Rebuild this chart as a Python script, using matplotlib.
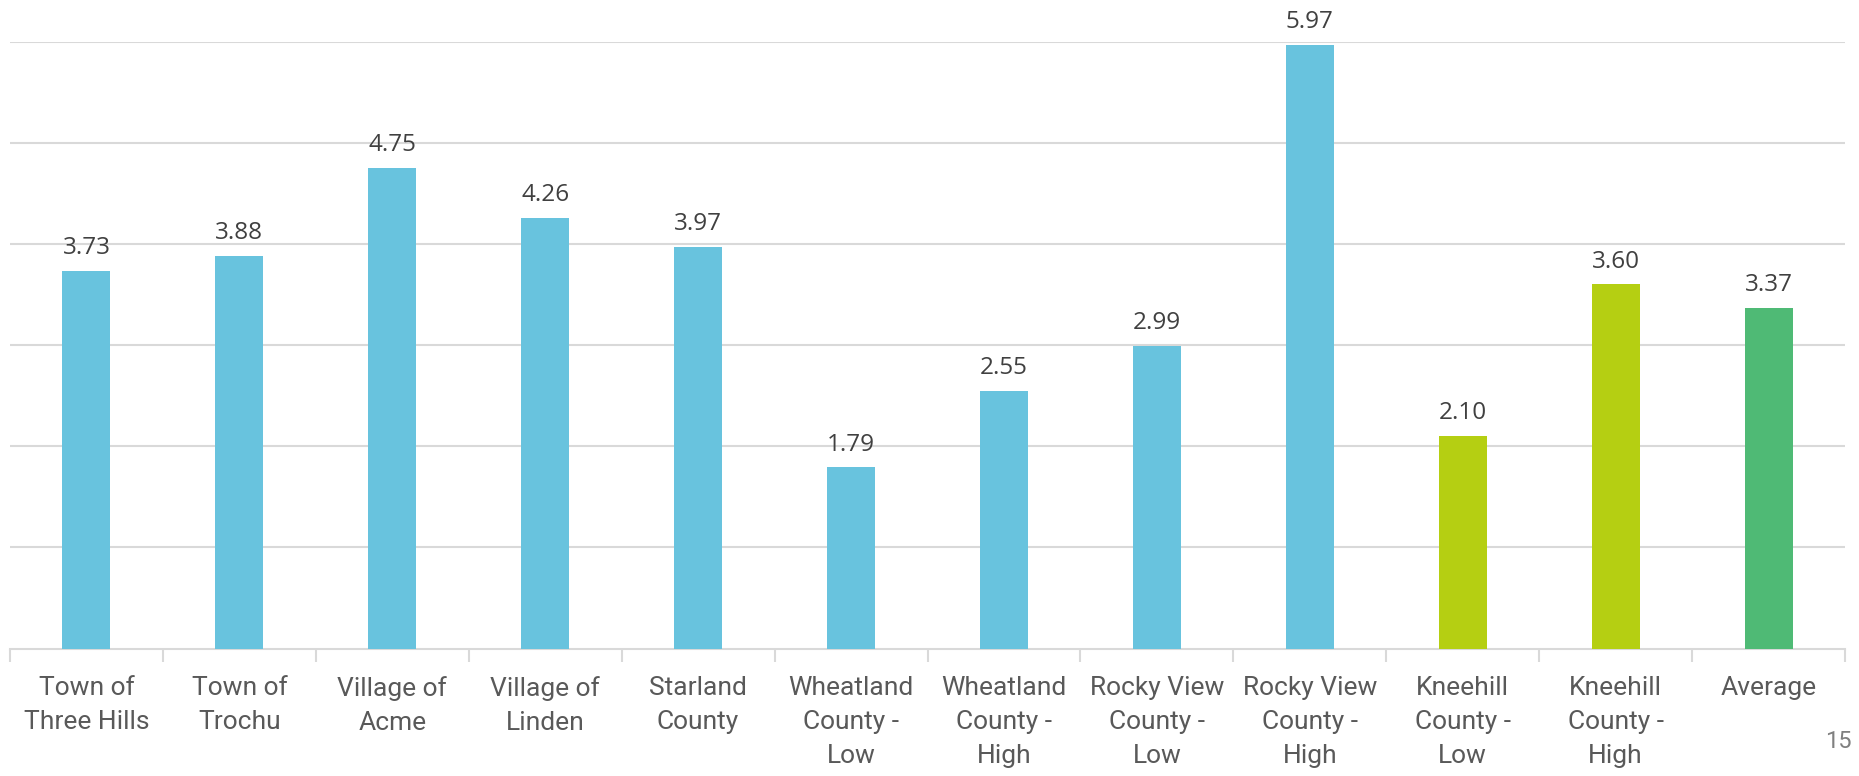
import numpy as np
import matplotlib.pyplot as plt

# Data
categories = ["Town of\nThree Hills", "Town of\nTrochu", "Village of\nAcme", "Village of\nLinden",
              "Starland\nCounty", "Wheatland\nCounty -\nLow", "Wheatland\nCounty -\nHigh",
              "Rocky View\nCounty -\nLow", "Rocky View\nCounty -\nHigh", "Kneehill\nCounty -\nLow",
              "Kneehill\nCounty -\nHigh", "Average"]
values = [3.73, 3.88, 4.75, 4.26, 3.97, 1.79, 2.55, 2.99, 5.97, 2.10, 3.60, 3.37]
groups = ["other"] * 9 + ["kneehill"] * 2 + ["average"]

group_colors = {"other": "#68C3DE", "kneehill": "#B5CF12", "average": "#4FBA75"}
grid_color = "#D9D9D9"

fig = plt.figure(figsize=(18.59, 7.76), dpi=100)
ax = fig.add_axes([10 / 1859, 1 - 648.5 / 776, 1835 / 1859, (648.5 - 41.5) / 776])

x = np.arange(len(categories))
colors = [group_colors[g] for g in groups]
bars = ax.bar(x, values, width=0.314, color=colors, zorder=3)

# Value labels above each bar
for rect, v in zip(bars, values):
    ax.annotate(f"{v:.2f}", (rect.get_x() + rect.get_width() / 2, v),
                xytext=(0, 12), textcoords="offset points",
                ha="center", va="baseline", fontsize=17.5, color="#404040",
                family="Open Sans", annotation_clip=False)

ax.set_xlim(-0.5, len(categories) - 0.5)
ax.set_ylim(0, 6)
ax.set_yticks(np.arange(1, 7))
ax.yaxis.grid(True, color=grid_color, linewidth=1.5, zorder=0)
ax.tick_params(axis="y", left=False, labelleft=False)

# Category labels centered, tick marks at the boundaries
ax.set_xticks(x)
ax.set_xticklabels(categories, fontsize=19, color="#595959", family="Roboto", linespacing=1.52)
ax.tick_params(axis="x", which="major", length=0, pad=20)
ax.set_xticks(np.arange(-0.5, len(categories)), minor=True)
ax.tick_params(axis="x", which="minor", length=9, width=1.5, color=grid_color)

for side in ["top", "right", "left"]:
    ax.spines[side].set_visible(False)
ax.spines["bottom"].set_color(grid_color)
ax.spines["bottom"].set_linewidth(1.5)

# Page number
fig.text(1852 / 1859, 1 - 742 / 776, "15", ha="right", va="center",
         fontsize=17, color="#808080", family="Roboto")

fig.savefig("out.png", dpi=100)
